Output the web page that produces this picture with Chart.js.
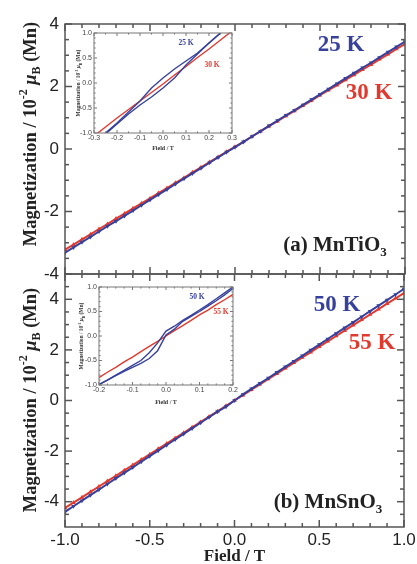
<!DOCTYPE html>
<html>
<head>
<meta charset="utf-8">
<script src="https://cdn.jsdelivr.net/npm/chart.js@4.4.1/dist/chart.umd.min.js"></script>
<style>
  html, body { margin: 0; padding: 0; background: #fff; }
  #fig { position: relative; width: 417px; height: 564px; overflow: hidden; background: #fff; }
  canvas { position: absolute; }
</style>
</head>
<body>
<div id="fig">
  <canvas id="mainA" width="417" height="280" style="left:0;top:0;width:417px;height:280px"></canvas>
  <canvas id="mainB" width="417" height="294" style="left:0;top:270px;width:417px;height:294px"></canvas>
  <canvas id="insetA" width="180" height="125" style="left:62px;top:28px;width:180px;height:125px"></canvas>
  <canvas id="insetB" width="180" height="125" style="left:66px;top:282px;width:180px;height:125px"></canvas>
</div>
<script>
// ---- field sweep, main panels (T) ----
const fieldMain = [-1.00,-0.95,-0.90,-0.85,-0.80,-0.75,-0.70,-0.65,-0.60,-0.55,-0.50,-0.45,-0.40,-0.35,-0.30,-0.25,-0.20,-0.15,-0.10,-0.05,0.00,0.05,0.10,0.15,0.20,0.25,0.30,0.35,0.40,0.45,0.50,0.55,0.60,0.65,0.70,0.75,0.80,0.85,0.90,0.95,1.00];

// (a) MnTiO3, magnetization in 10^-2 muB per Mn
const mTi25 = [-3.32,-3.15,-2.98,-2.81,-2.64,-2.47,-2.31,-2.14,-1.97,-1.80,-1.63,-1.46,-1.29,-1.12,-0.95,-0.78,-0.61,-0.44,-0.27,-0.10,0.06,0.23,0.40,0.57,0.74,0.91,1.08,1.24,1.41,1.58,1.75,1.92,2.09,2.26,2.43,2.60,2.76,2.93,3.10,3.27,3.44];
const mTi30 = [-3.22,-3.06,-2.89,-2.73,-2.56,-2.40,-2.23,-2.07,-1.90,-1.74,-1.58,-1.41,-1.25,-1.08,-0.92,-0.75,-0.59,-0.42,-0.26,-0.09,0.07,0.23,0.40,0.56,0.73,0.89,1.06,1.22,1.39,1.55,1.72,1.88,2.04,2.21,2.37,2.54,2.70,2.87,3.03,3.20,3.36];

// (b) MnSnO3
const mSn50 = [-4.40,-4.18,-3.96,-3.74,-3.52,-3.30,-3.08,-2.86,-2.64,-2.42,-2.20,-1.98,-1.76,-1.54,-1.32,-1.10,-0.88,-0.66,-0.44,-0.24,0.00,0.24,0.46,0.68,0.89,1.11,1.33,1.55,1.77,1.99,2.21,2.43,2.65,2.87,3.09,3.31,3.53,3.75,3.97,4.19,4.41];
const mSn55 = [-4.25,-4.04,-3.83,-3.61,-3.40,-3.19,-2.98,-2.76,-2.55,-2.34,-2.13,-1.91,-1.70,-1.49,-1.28,-1.06,-0.85,-0.64,-0.43,-0.21,0.00,0.21,0.43,0.64,0.85,1.06,1.28,1.49,1.70,1.91,2.13,2.34,2.55,2.76,2.98,3.19,3.40,3.61,3.83,4.04,4.25];

// ---- low-field loops (insets) ----
const fieldInsetA = [-0.30,-0.25,-0.20,-0.15,-0.10,-0.05,0.00,0.05,0.10,0.15,0.20,0.25,0.30];
const mTi25Down = [-1.20,-1.00,-0.80,-0.58,-0.36,-0.10,0.10,0.28,0.44,0.60,0.80,1.00,1.20];
const mTi25Up   = [-1.22,-1.02,-0.82,-0.62,-0.44,-0.28,-0.10,0.10,0.36,0.58,0.80,1.00,1.20];
const mTi30Loop = [-1.06,-0.88,-0.70,-0.53,-0.36,-0.19,-0.02,0.16,0.33,0.51,0.68,0.86,1.04];

const fieldInsetB = [-0.200,-0.175,-0.150,-0.125,-0.100,-0.075,-0.050,-0.025,0.000,0.025,0.050,0.075,0.100,0.125,0.150,0.175,0.200];
const mSn50Up   = [-0.99,-0.90,-0.81,-0.72,-0.64,-0.56,-0.46,-0.30,0.02,0.14,0.30,0.40,0.50,0.61,0.72,0.84,0.97];
const mSn50Down = [-0.99,-0.90,-0.80,-0.70,-0.60,-0.50,-0.34,-0.14,0.10,0.20,0.32,0.42,0.53,0.64,0.76,0.88,1.00];
const mSn55Loop = [-0.85,-0.74,-0.64,-0.53,-0.43,-0.32,-0.21,-0.11,0.00,0.11,0.21,0.32,0.43,0.53,0.64,0.74,0.85];

// ---- tick values ----
const fieldTicks = [-1.0,-0.5,0.0,0.5,1.0];
const fieldMinor = [-0.9,-0.8,-0.7,-0.6,-0.4,-0.3,-0.2,-0.1,0.1,0.2,0.3,0.4,0.6,0.7,0.8,0.9];
const tiTicks = [-4,-2,0,2,4];
const tiMinor = [-3.5,-3,-2.5,-1.5,-1,-0.5,0.5,1,1.5,2.5,3,3.5];
const snTicks = [-4,-2,0,2,4];
const snMinor = [-4.5,-3.5,-3,-2.5,-1.5,-1,-0.5,0.5,1,1.5,2.5,3,3.5,4.5];
const insetATicksX = [-0.3,-0.2,-0.1,0.0,0.1,0.2,0.3];
const insetAMinorX = [-0.25,-0.15,-0.05,0.05,0.15,0.25];
const insetBTicksX = [-0.2,-0.1,0.0,0.1,0.2];
const insetBMinorX = [-0.175,-0.15,-0.125,-0.075,-0.05,-0.025,0.025,0.05,0.075,0.125,0.15,0.175];
const insetTicksY = [-1.0,-0.5,0.0,0.5,1.0];
const insetMinorY = [-0.9,-0.8,-0.7,-0.6,-0.4,-0.3,-0.2,-0.1,0.1,0.2,0.3,0.4,0.6,0.7,0.8,0.9];

const BLUE = '#37419c';
const RED = '#e2392e';
const SERIF = "'Liberation Serif', 'DejaVu Serif', serif";
const SANS = "'Liberation Sans', Arial, sans-serif";

const pts = (xs, ys) => xs.map((x, i) => ({ x: x, y: ys[i] }));

// Closed frame with inward major/minor tick marks on all four sides
const frameTicks = {
  id: 'frameTicks',
  afterDraw(chart, args, o) {
    const { ctx, chartArea: a, scales } = chart;
    const xs = scales.x, ys = scales.y;
    ctx.save();
    ctx.strokeStyle = o.color;
    ctx.lineWidth = o.width;
    const seg = (x1, y1, x2, y2) => { ctx.beginPath(); ctx.moveTo(x1, y1); ctx.lineTo(x2, y2); ctx.stroke(); };
    const tx = (vals, len) => vals.forEach(v => {
      const p = xs.getPixelForValue(v);
      seg(p, a.bottom, p, a.bottom - len);
      seg(p, a.top, p, a.top + len);
    });
    const ty = (vals, len) => vals.forEach(v => {
      const p = ys.getPixelForValue(v);
      seg(a.left, p, a.left + len, p);
      seg(a.right, p, a.right - len, p);
    });
    tx(xs.ticks.map(t => t.value), o.major);
    tx(o.xMinor, o.minor);
    ty(ys.ticks.map(t => t.value), o.major);
    ty(o.yMinor, o.minor);
    ctx.strokeRect(a.left, a.top, a.right - a.left, a.bottom - a.top);
    ctx.restore();
  }
};

// Text with sub/superscripts, optionally rotated
const richLabels = {
  id: 'richLabels',
  afterDraw(chart, args, o) {
    const ctx = chart.ctx;
    (o.items || []).forEach(it => {
      ctx.save();
      ctx.translate(it.x, it.y);
      if (it.rotate) ctx.rotate(it.rotate);
      ctx.fillStyle = it.color;
      ctx.textBaseline = 'middle';
      ctx.textAlign = 'left';
      let total = 0;
      const fontOf = p => (p.it ? 'italic ' : '') + 'bold ' + p.s + 'px ' + SERIF;
      it.parts.forEach(p => { ctx.font = fontOf(p); p.w = ctx.measureText(p.t).width; total += p.w; });
      let cx = it.align === 'left' ? 0 : -total / 2;
      it.parts.forEach(p => { ctx.font = fontOf(p); ctx.fillText(p.t, cx, p.dy || 0); cx += p.w; });
      ctx.restore();
    });
  }
};

const yTitle = (s, sub, dsup, dsub) => [
  { t: 'Magnetization / 10', s: s },
  { t: '-2', s: sub, dy: dsup },
  { t: ' ', s: s },
  { t: 'μ', s: s, it: true },
  { t: 'B', s: sub, dy: dsub },
  { t: ' (Mn)', s: s }
];
const word = (t, s) => [{ t: t, s: s }];
const formula = (prefix, idx, s) => [{ t: prefix, s: s }, { t: idx, s: Math.round(s * 0.62), dy: s * 0.3 }];

const zeroPad = s => { s.paddingTop = 0; s.paddingBottom = 0; s.paddingLeft = 0; s.paddingRight = 0; };

function makeChart(id, c) {
  return new Chart(document.getElementById(id), {
    type: 'line',
    data: { datasets: c.datasets },
    options: {
      responsive: false,
      animation: false,
      devicePixelRatio: 1,
      events: [],
      layout: { padding: c.padding },
      plugins: {
        legend: { display: false },
        tooltip: { enabled: false },
        frameTicks: c.frame,
        richLabels: { items: c.labels }
      },
      scales: {
        x: {
          type: 'linear', min: c.xMin, max: c.xMax,
          afterBuildTicks: s => { s.ticks = c.xTicks.map(v => ({ value: v })); },
          afterFit: s => { s.height = c.xHeight; zeroPad(s); },
          grid: { display: false, drawTicks: false },
          border: { display: false },
          ticks: {
            display: c.showX, padding: c.xPad, color: c.tickColor,
            font: { family: SANS, size: c.tickSize },
            maxRotation: 0, autoSkip: false,
            callback: v => Number(v).toFixed(1)
          },
          title: c.xTitle
        },
        y: {
          type: 'linear', min: c.yMin, max: c.yMax,
          afterBuildTicks: s => { s.ticks = c.yTicks.map(v => ({ value: v })); },
          afterFit: s => { s.width = c.yWidth; zeroPad(s); },
          grid: { display: false, drawTicks: false },
          border: { display: false },
          ticks: {
            padding: c.yPad, color: c.tickColor,
            font: { family: SANS, size: c.tickSize },
            autoSkip: false,
            callback: c.yFmt
          }
        }
      }
    },
    plugins: [frameTicks, richLabels]
  });
}

const mainSeries = (xs, ys, color, rot) => ({
  data: pts(xs, ys), borderColor: color, backgroundColor: color, borderWidth: 2,
  pointStyle: 'triangle', pointRadius: 2.6, pointRotation: rot, pointBorderWidth: 0,
  tension: 0
});
const loopSeries = (xs, ys, color, w) => ({
  data: pts(xs, ys), borderColor: color, borderWidth: w, pointRadius: 0, tension: 0
});

const mainFrame = (xMinor, yMinor) => ({ color: '#555', width: 1.5, major: 7, minor: 4, xMinor: xMinor, yMinor: yMinor });
const insetFrame = (xMinor) => ({ color: '#777', width: 1, major: 3, minor: 1.6, xMinor: xMinor, yMinor: insetMinorY });

// (a) MnTiO3
makeChart('mainA', {
  datasets: [mainSeries(fieldMain, mTi25, BLUE, 180), mainSeries(fieldMain, mTi30, RED, 0)],
  padding: { left: 0, right: 12, top: 24, bottom: 0 },
  xMin: -1, xMax: 1, xTicks: fieldTicks, showX: false, xHeight: 6, xPad: 4,
  yMin: -4, yMax: 4, yTicks: tiTicks, yWidth: 65, yPad: 6,
  tickSize: 17, tickColor: '#222', yFmt: v => String(v),
  xTitle: { display: false },
  frame: mainFrame(fieldMinor, tiMinor),
  labels: [
    { parts: yTitle(18.5, 12, -7.5, 5.5), x: 31, y: 134, rotate: -Math.PI / 2, color: '#222' },
    { parts: word('25 K', 23), x: 341, y: 45, color: BLUE },
    { parts: word('30 K', 23), x: 369, y: 93, color: RED },
    { parts: formula('(a) MnTiO', '3', 21), x: 335, y: 246, color: '#222' }
  ]
});

// (b) MnSnO3
makeChart('mainB', {
  datasets: [mainSeries(fieldMain, mSn50, BLUE, 180), mainSeries(fieldMain, mSn55, RED, 0)],
  padding: { left: 0, right: 13, top: 4, bottom: 0 },
  xMin: -1, xMax: 1, xTicks: fieldTicks, showX: true, xHeight: 37, xPad: 3,
  yMin: -5, yMax: 5, yTicks: snTicks, yWidth: 65, yPad: 6,
  tickSize: 17, tickColor: '#222', yFmt: v => String(v),
  xTitle: { display: true, text: 'Field / T', color: '#222', font: { family: SERIF, size: 17, weight: 'bold', lineHeight: 0.9 }, padding: { top: 0, bottom: 0 } },
  frame: mainFrame(fieldMinor, snMinor),
  labels: [
    { parts: yTitle(18.5, 12, -7.5, 5.5), x: 31, y: 130, rotate: -Math.PI / 2, color: '#222' },
    { parts: word('50 K', 23), x: 337, y: 35, color: BLUE },
    { parts: word('55 K', 23), x: 372, y: 73, color: RED },
    { parts: formula('(b) MnSnO', '3', 21), x: 328, y: 233, color: '#222' }
  ]
});

// inset (a): low-field loops of MnTiO3
makeChart('insetA', {
  datasets: [
    loopSeries(fieldInsetA, mTi25Down, BLUE, 1.4),
    loopSeries(fieldInsetA, mTi25Up, BLUE, 1.4),
    loopSeries(fieldInsetA, mTi30Loop, RED, 1.4)
  ],
  padding: { left: 0, right: 10, top: 5, bottom: 0 },
  xMin: -0.3, xMax: 0.3, xTicks: insetATicksX, showX: true, xHeight: 20, xPad: 1,
  yMin: -1, yMax: 1, yTicks: insetTicksY, yWidth: 32, yPad: 2,
  tickSize: 7, tickColor: '#444', yFmt: v => Number(v).toFixed(1),
  xTitle: { display: true, text: 'Field / T', color: '#333', font: { family: SERIF, size: 6, weight: 'bold' }, padding: { top: 0, bottom: 1 } },
  frame: insetFrame(insetAMinorX),
  labels: [
    { parts: yTitle(5.5, 3.6, -2.2, 1.6), x: 17, y: 55, rotate: -Math.PI / 2, color: '#333' },
    { parts: word('25 K', 7.5), x: 124, y: 15, color: BLUE },
    { parts: word('30 K', 7.5), x: 150, y: 37, color: RED }
  ]
});

// inset (b): low-field loops of MnSnO3
makeChart('insetB', {
  datasets: [
    loopSeries(fieldInsetB, mSn50Down, BLUE, 1.4),
    loopSeries(fieldInsetB, mSn50Up, BLUE, 1.4),
    loopSeries(fieldInsetB, mSn55Loop, RED, 1.4)
  ],
  padding: { left: 0, right: 13, top: 5, bottom: 0 },
  xMin: -0.2, xMax: 0.2, xTicks: insetBTicksX, showX: true, xHeight: 22, xPad: 1,
  yMin: -1, yMax: 1, yTicks: insetTicksY, yWidth: 33, yPad: 2,
  tickSize: 7, tickColor: '#444', yFmt: v => Number(v).toFixed(1),
  xTitle: { display: true, text: 'Field / T', color: '#333', font: { family: SERIF, size: 6, weight: 'bold' }, padding: { top: 0, bottom: 1 } },
  frame: insetFrame(insetBMinorX),
  labels: [
    { parts: yTitle(5.5, 3.6, -2.2, 1.6), x: 16, y: 54, rotate: -Math.PI / 2, color: '#333' },
    { parts: word('50 K', 7.5), x: 131, y: 15, color: BLUE },
    { parts: word('55 K', 7.5), x: 155, y: 30, color: RED }
  ]
});
</script>
</body>
</html>
